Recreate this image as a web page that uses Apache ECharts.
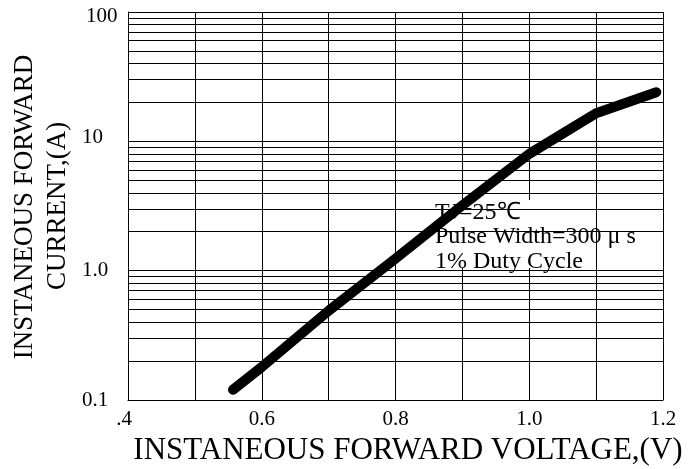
<!DOCTYPE html>
<html>
<head>
<meta charset="utf-8">
<script src="https://cdn.jsdelivr.net/npm/echarts@6/dist/echarts.min.js"></script>
<style>
html,body{margin:0;padding:0;background:#fff;}
#c{width:691px;height:469px;}
</style>
</head>
<body>
<div id="c"></div>
<script>
// Data
const voltage = [0.557, 0.6, 0.7, 0.8, 0.9, 1.0, 1.1, 1.19];
const current = [0.12, 0.18, 0.49, 1.24, 3.2, 8.0, 16.5, 24.0];
const xTickValues = [0.4, 0.6, 0.8, 1.0, 1.2];
const xTickLabels = ['.4', '0.6', '0.8', '1.0', '1.2'];
const yTickValues = [0.1, 1, 10, 100];
const yTickLabels = ['0.1', '1.0', '10', '100'];
const minorGrid = [0.2,0.3,0.4,0.5,0.6,0.7,0.8,0.9, 2,3,4,5,6,7,8,9, 20,30,40,50,60,70,80,90];
const noteLines = ['TJ=25\u2103', 'Pulse Width=300 \u03bc s', '1% Duty Cycle'];
const xTitle = 'INSTANEOUS FORWARD VOLTAGE,(V)';
const yTitle1 = 'INSTANEOUS FORWARD';
const yTitle2 = 'CURRENT,(A)';

const FONT = '"Liberation Serif","Times New Roman",serif';
const chart = echarts.init(document.getElementById('c'), null, {renderer: 'canvas'});

const pts = voltage.map((v, i) => [v, current[i]]);

chart.setOption({
  animation: false,
  backgroundColor: '#fff',
  grid: {left: 128, right: 28, top: 12, bottom: 69, containLabel: false},
  xAxis: {
    type: 'value', min: 0.4, max: 1.2, interval: 0.2,
    axisLine: {show: true, lineStyle: {color: '#000', width: 1}},
    axisTick: {show: false},
    splitLine: {show: true, lineStyle: {color: '#000', width: 1}},
    minorTick: {show: false, splitNumber: 2},
    minorSplitLine: {show: true, lineStyle: {color: '#000', width: 1}},
    axisLabel: {
      margin: 9, color: '#000', fontFamily: FONT, fontSize: 21,
      formatter: function (v) {
        let idx = xTickValues.findIndex(t => Math.abs(t - v) < 1e-6);
        let s = idx >= 0 ? xTickLabels[idx] : '';
        return idx === 0 ? '{l|' + s + '}' : s;
      },
      rich: {l: {fontFamily: FONT, fontSize: 21, color: '#000', padding: [0, 8, 0, 0]}}
    }
  },
  yAxis: {
    type: 'log', logBase: 10, min: 0.1, max: 100,
    axisLine: {show: true, lineStyle: {color: '#000', width: 1}},
    axisTick: {show: false},
    splitLine: {show: true, lineStyle: {color: '#000', width: 1}},
    axisLabel: {
      margin: 46, align: 'left', color: '#000', fontFamily: FONT, fontSize: 21,
      formatter: function (v) {
        let idx = Math.round(Math.log10(v)) + 1;
        let s = yTickLabels[idx] || '';
        if (idx === 3) return '{d|' + s + '}';
        if (idx === 2) return '{u|' + s + '}';
        return s;
      },
      rich: {
        d: {fontFamily: FONT, fontSize: 21, color: '#000', padding: [8, 0, 0, 4]},
        u: {fontFamily: FONT, fontSize: 21, color: '#000', padding: [0, 0, 8, 0]}
      }
    }
  },
  graphic: [
    {type: 'rect', z: 1, silent: true,
     shape: {x: 433, y: 200, width: 163, height: 68},
     style: {fill: '#fff'}},
    {type: 'text', z: 2, silent: true, x: 435, y: 200,
     style: {text: noteLines.join('\n'), font: '24px ' + FONT, fill: '#000',
             lineHeight: 24.5, align: 'left', verticalAlign: 'top'}},
    {type: 'text', z: 2, silent: true, x: 408, y: 451,
     style: {text: xTitle, font: '31px ' + FONT, fill: '#000', align: 'center', verticalAlign: 'middle'}},
    {type: 'text', z: 2, silent: true, x: 25, y: 207, rotation: Math.PI / 2,
     style: {text: yTitle1, font: '27px ' + FONT, fill: '#000', align: 'center', verticalAlign: 'middle'}},
    {type: 'text', z: 2, silent: true, x: 58, y: 206, rotation: Math.PI / 2,
     style: {text: yTitle2, font: '27px ' + FONT, fill: '#000', align: 'center', verticalAlign: 'middle'}}
  ],
  series: [
    {
      type: 'line', z: 0, data: [], silent: true,
      markLine: {
        silent: true, symbol: ['none', 'none'], animation: false,
        label: {show: false},
        lineStyle: {type: 'solid', color: '#000', width: 1},
        emphasis: {disabled: true},
        data: minorGrid.map(v => ({yAxis: v}))
      }
    },
    {
      type: 'line', z: 5, data: pts, showSymbol: false, symbol: 'none', smooth: false,
      lineStyle: {color: '#000', width: 10, cap: 'round', join: 'round'},
      emphasis: {disabled: true}
    }
  ]
});
</script>
</body>
</html>
